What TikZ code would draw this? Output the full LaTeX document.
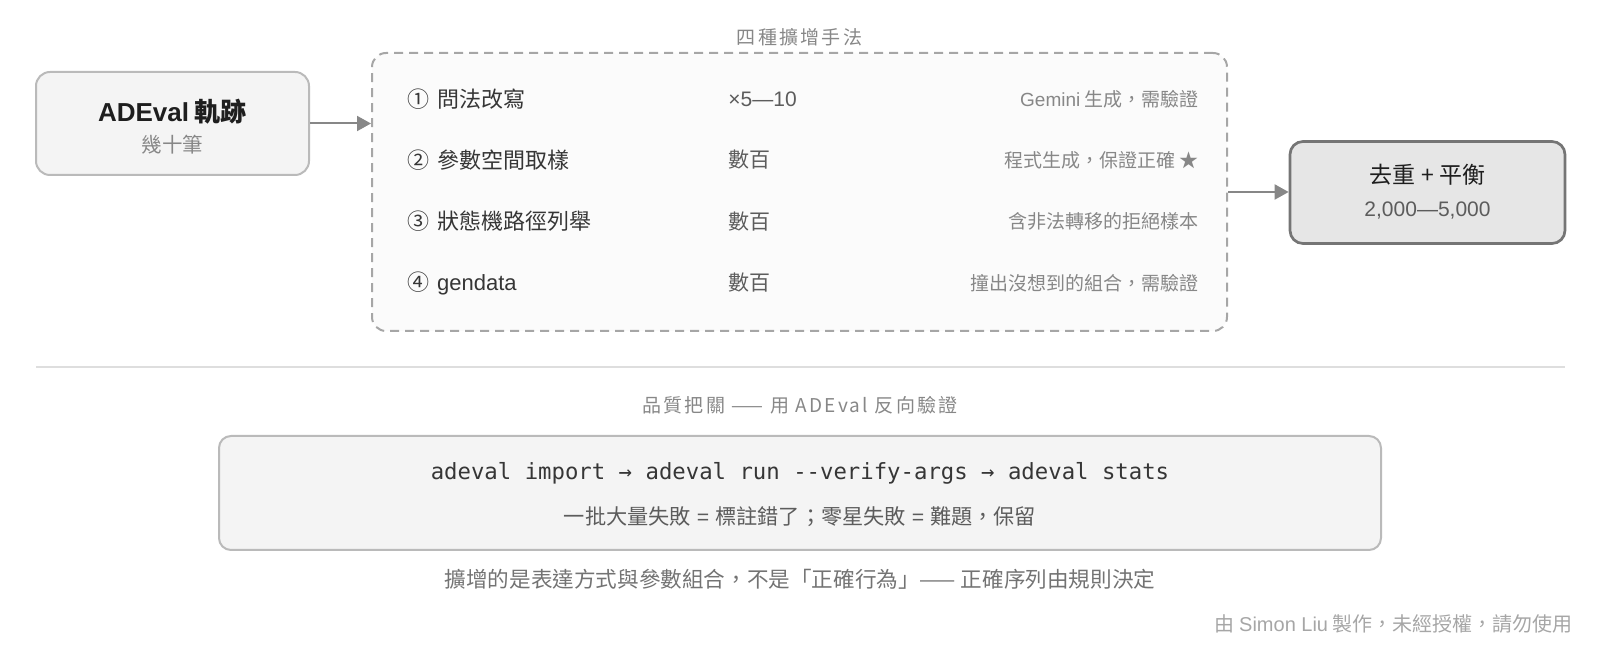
\documentclass[tikz,border=0pt]{standalone}
\usepackage{fontspec}
\setmainfont{Noto Sans CJK TC}
\setmonofont{DejaVu Sans Mono}
\newfontfamily\latinfont{Liberation Sans}
\newfontfamily\capfont[LetterSpace=12]{Noto Sans CJK TC}
\usetikzlibrary{arrows.meta}
\definecolor{inkdark}{HTML}{1E1E1E}
\definecolor{inkmid}{HTML}{363636}
\definecolor{inksoft}{HTML}{5C5C5C}
\definecolor{inkgray}{HTML}{878787}
\definecolor{inklight}{HTML}{A6A6A6}
\definecolor{boxfill}{HTML}{F4F4F4}
\definecolor{boxline}{HTML}{BABABA}
\definecolor{darkfill}{HTML}{E6E6E6}
\definecolor{darkline}{HTML}{757575}
\newcommand{\fsz}[1]{\fontsize{#1}{1.2\dimexpr#1\relax}\selectfont}
\newcommand{\numgap}{\hspace{0.35em}}
\tikzset{
  card/.style={draw=boxline, fill=boxfill, line width=1pt, rounded corners=7pt, inner sep=0pt},
  group/.style={draw=inklight, fill=white!98.5!black, line width=1pt, dash pattern=on 4.5pt off 3pt, rounded corners=7pt, inner sep=0pt},
  flow/.style={draw=inkgray, line width=1pt, -{Triangle[length=7pt,width=7.5pt]}},
  method/.style={anchor=west, text=inkmid, font=\fsz{11pt}, inner sep=0pt},
  amount/.style={anchor=west, text=inksoft, font=\fsz{10.5pt}, inner sep=0pt},
  remark/.style={anchor=east, text=inkgray, font=\fsz{9.5pt}, inner sep=0pt},
  caption/.style={text=inkgray, font=\capfont\fsz{9.5pt}, inner sep=0pt},
}

\begin{document}
\begin{tikzpicture}[x=0.5pt, y=-0.5pt]
  \useasboundingbox (0,0) rectangle (1600,651);
  % source
  \node[card, minimum width=136.5pt, minimum height=51.5pt] (src) at (172.5,123.5) {};
  \node[text=inkdark, font=\fsz{13pt}\bfseries, inner sep=0pt] (srct) at (172.5,111.5) {{\latinfont ADEval} 軌跡};
  \node[text=inkgray, font=\fsz{10.25pt}, inner sep=0pt] (srcs) at (172.5,144.5) {幾十筆};
  % augmentation group
  \node[group, minimum width=427.5pt, minimum height=139pt] (aug) at (799.5,192) {};
  \node[caption] (augt) at (799.5,37) {四種擴增手法};
  \node[method] (m1) at (407,99) {①\numgap 問法改寫};
  \node[method] (m2) at (407,160) {②\numgap 參數空間取樣};
  \node[method] (m3) at (407,221.5) {③\numgap 狀態機路徑列舉};
  \node[method] (m4) at (407,283) {④\numgap {\latinfont gendata}};
  \node[amount] (n1) at (728,99) {\latinfont ×5—10};
  \node[amount] (n2) at (728,160) {數百};
  \node[amount] (n3) at (728,221.5) {數百};
  \node[amount] (n4) at (728,283) {數百};
  \node[remark] (r1) at (1199,99) {{\latinfont Gemini} 生成，需驗證};
  \node[remark] (r2) at (1199,160) {程式生成，保證正確 ★};
  \node[remark] (r3) at (1199,221.5) {含非法轉移的拒絕樣本};
  \node[remark] (r4) at (1199,283) {撞出沒想到的組合，需驗證};
  % result
  \node[card, draw=darkline, fill=darkfill, line width=1.35pt, rounded corners=6.5pt, minimum width=137.5pt, minimum height=51pt] (dedup) at (1427.5,192.5) {};
  \node[text=inkdark, font=\fsz{11.5pt}, inner sep=0pt] (dedupt) at (1427.5,175) {去重 + 平衡};
  \node[text=inksoft, font=\fsz{10.5pt}, inner sep=0pt] (dedups) at (1427.5,210.5) {\latinfont 2,000—5,000};
  \draw[flow] (src.east) -- (src.east -| aug.west);
  \draw[flow] (aug.east) -- (aug.east -| dedup.west);
  % separator
  \draw[draw=black!13, line width=1pt] (36,367.5) -- (1565,367.5);
  % quality gate
  \node[caption] (gatet) at (800,405) {品質把關 —— 用 ADEval 反向驗證};
  \node[card, rounded corners=6pt, minimum width=581pt, minimum height=57pt] (gate) at (800,493) {};
  \node[text=inkmid, font=\ttfamily\fsz{11.15pt}, inner sep=0pt] (cmd) at (800,473) {adeval import → adeval run --verify-args → adeval stats};
  \node[text=inksoft, font=\fsz{10.6pt}, inner sep=0pt] (rule) at (800,517) {一批大量失敗{\latinfont\ =\ }標註錯了；零星失敗{\latinfont\ =\ }難題，保留};
  \node[text=inkgray!85!black, font=\fsz{10.8pt}, inner sep=0pt] (note) at (800,579) {擴增的是表達方式與參數組合，不是「正確行為」—— 正確序列由規則決定};
  \node[anchor=east, text=inklight, font=\fsz{10pt}, inner sep=0pt] (credit) at (1573,624) {由 {\latinfont Simon Liu} 製作，未經授權，請勿使用};
\end{tikzpicture}
\end{document}
